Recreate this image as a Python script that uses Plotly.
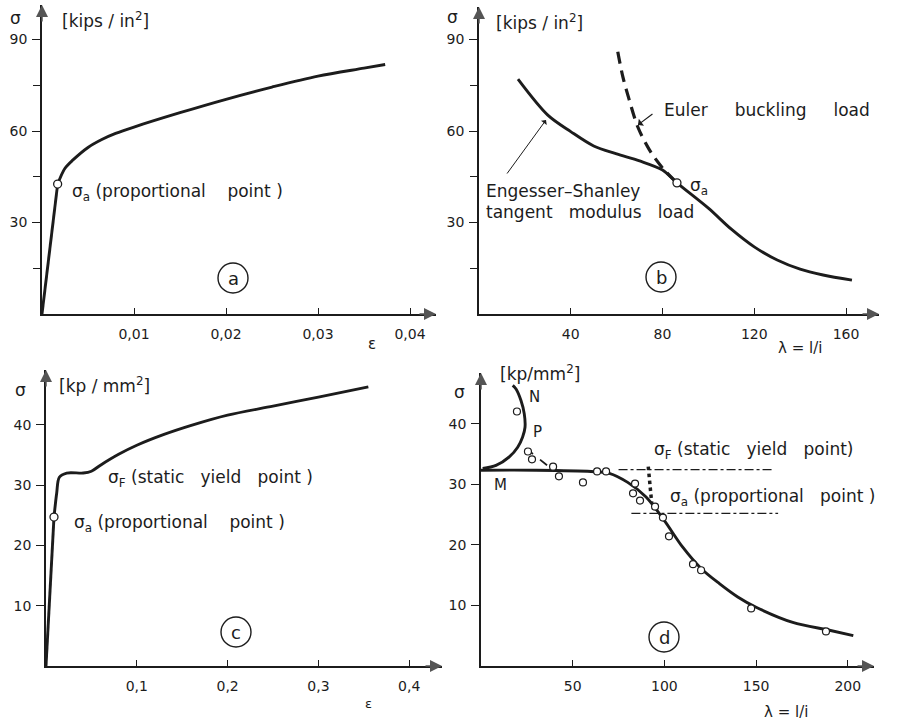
import plotly.graph_objects as go

W, H = 916, 726

# ---------------- data ----------------
# (a) stress-strain, kips/in^2
a_eps = [0, 0.0017, 0.0025, 0.0034, 0.0050, 0.0065, 0.0080, 0.0100, 0.0150, 0.0200, 0.0250, 0.0300, 0.0350, 0.0373]
a_sig = [0, 42.6, 47.8, 50.6, 54.6, 57.2, 59.2, 61.3, 66.0, 70.4, 74.4, 78.0, 80.6, 81.8]
a_prop = (0.0017, 42.6)
a_xticks = [0.01, 0.02, 0.03, 0.04]
a_xtext = ["0,01", "0,02", "0,03", "0,04"]

# (b) column buckling, kips/in^2
b_lam = [17.0, 30, 40, 50, 60, 70, 80, 86.3, 100, 110, 120, 130, 140, 150, 162.6]
b_sig = [77.0, 65.2, 59.8, 55.1, 52.5, 50.2, 47.2, 43.0, 34.7, 27.8, 22.0, 17.7, 14.7, 12.8, 11.1]
euler_lam = [60.5, 62.7, 65.5, 69.2, 74.3, 80.1, 86.3]
euler_sig = [86.0, 77.8, 70.2, 61.4, 53.8, 47.8, 43.0]
b_prop = (86.3, 43.0)
b_xticks = [40, 80, 120, 160]

ab_yticks = [30, 60, 90]
ab_yminor = [15, 45, 75]

# (c) stress-strain, kp/mm^2
c_eps = [0, 0.0088, 0.0118, 0.0147, 0.0228, 0.041, 0.050, 0.060, 0.080, 0.100, 0.130, 0.160, 0.200, 0.250, 0.300, 0.355]
c_sig = [0, 24.7, 28.7, 31.3, 32.0, 32.0, 32.3, 33.3, 35.1, 36.6, 38.4, 39.9, 41.6, 43.1, 44.6, 46.3]
c_prop = (0.0088, 24.7)
c_xticks = [0.1, 0.2, 0.3, 0.4]
c_xtext = ["0,1", "0,2", "0,3", "0,4"]

# (d) column tests, kp/mm^2
d_lam = [0, 30, 60, 70, 80, 90, 100, 110, 120, 130, 140, 150, 170, 190, 203]
d_sig = [32.3, 32.3, 32.1, 31.8, 30.3, 27.9, 24.0, 19.6, 16.1, 13.6, 11.4, 9.7, 7.2, 5.9, 5.0]
mn_lam = [0.9, 8.2, 15.4, 20.0, 22.7, 24.0, 23.6, 21.8, 19.1, 17.3]
mn_sig = [32.6, 33.1, 34.5, 36.1, 37.8, 39.4, 41.6, 43.8, 45.7, 46.3]
p_lam = [24.5, 38.2]
p_sig = [35.9, 32.6]
dot_lam = [91.2, 93.1]
dot_sig = [32.9, 26.8]
yield_lam = [75, 159]
yield_sig = [32.4, 32.4]
propl_lam = [82, 162]
propl_sig = [25.2, 25.2]
test_lam = [19.6, 25.6, 27.8, 39.3, 42.5, 55.6, 63.3, 68.2, 84.0, 82.9, 86.7, 94.9, 99.2, 102.5, 115.6, 120.0, 147.3, 188.1]
test_sig = [42.0, 35.4, 34.1, 32.9, 31.3, 30.3, 32.1, 32.1, 30.1, 28.5, 27.3, 26.3, 24.5, 21.4, 16.8, 15.8, 9.5, 5.7]
d_xticks = [50, 100, 150, 200]
cd_yticks = [10, 20, 30, 40]

# ---------------- styling ----------------
INK = "#1c1c1c"
FONT = "DejaVu Sans"
CURVE = dict(color=INK, width=2.9)
OPEN = dict(symbol="circle", size=8, color="white", line=dict(color=INK, width=1.3))


def px(x):
    return x / W


def py(y):
    return 1 - y / H


fig = go.Figure()


def add(x, y, ax, **kw):
    fig.add_trace(go.Scatter(x=x, y=y, xaxis="x" + ax, yaxis="y" + ax,
                             showlegend=False, hoverinfo="skip", **kw))


SPL = dict(shape="spline", smoothing=0.9)

# panel a
add(a_eps[:2], a_sig[:2], "", mode="lines", line=CURVE)
add(a_eps[1:], a_sig[1:], "", mode="lines", line=dict(**CURVE, **SPL))
add([a_prop[0]], [a_prop[1]], "", mode="markers", marker=OPEN)
# panel b
add(euler_lam, euler_sig, "2", mode="lines", line=dict(color=INK, width=3.2, dash="12px,7px", **SPL))
add(b_lam, b_sig, "2", mode="lines", line=dict(**CURVE, **SPL))
add([b_prop[0]], [b_prop[1]], "2", mode="markers", marker=OPEN)
# panel c
add(c_eps[:2], c_sig[:2], "3", mode="lines", line=CURVE)
add(c_eps[1:], c_sig[1:], "3", mode="lines", line=dict(**CURVE, **SPL))
add([c_prop[0]], [c_prop[1]], "3", mode="markers", marker=OPEN)
# panel d
add(yield_lam, yield_sig, "4", mode="lines", line=dict(color=INK, width=1.2, dash="dashdot"))
add(propl_lam, propl_sig, "4", mode="lines", line=dict(color=INK, width=1.2, dash="dashdot"))
add(d_lam, d_sig, "4", mode="lines", line=dict(**CURVE, **SPL))
add(mn_lam, mn_sig, "4", mode="lines", line=dict(**CURVE, **SPL))
add(p_lam, p_sig, "4", mode="lines", line=dict(color=INK, width=1.8, dash="dash"))
add(dot_lam, dot_sig, "4", mode="lines", line=dict(color=INK, width=3.5, dash="dot"))
add(test_lam, test_sig, "4", mode="markers", marker=dict(symbol="circle", size=7, color="white", line=dict(color=INK, width=1.2)))

TF = dict(family=FONT, size=14, color=INK)


def xaxis(dom, rng, vals, text, anchor):
    return dict(domain=dom, range=rng, anchor=anchor, showline=True, linecolor=INK, linewidth=1.6,
                ticks="inside", ticklen=6, tickwidth=1.3, tickcolor=INK, tickvals=vals, ticktext=text,
                showgrid=False, zeroline=False, tickfont=TF, ticklabelstandoff=6, fixedrange=True)


def yaxis(dom, rng, vals, anchor, minor=None):
    d = dict(domain=dom, range=rng, anchor=anchor, showline=True, linecolor=INK, linewidth=1.6,
             ticks="outside", ticklen=8, tickwidth=1.3, tickcolor=INK, tickvals=vals,
             showgrid=False, zeroline=False, tickfont=TF, ticklabelstandoff=2, fixedrange=True)
    if minor:
        d["minor"] = dict(tickvals=minor, ticks="outside", ticklen=7, tickwidth=1.2, tickcolor=INK, showgrid=False)
    return d


# pixel frames of each panel: (x0, x1, ytop, ybottom)
fa = (42, 436, 5, 314)
fb = (479, 879, 7, 314)
fc = (46, 442, 370, 666)
fd = (481, 874, 373, 666)

ra = [0, (fa[1] - fa[0]) / 9200]
rya = [0, (fa[3] - fa[2]) / 91.5 * 30]
rb = [0, (fb[1] - fb[0]) / 91.75 * 40]
ryb = [0, (fb[3] - fb[2]) / 91.5 * 30]
rc = [0, (fc[1] - fc[0]) / 908]
ryc = [0, (fc[3] - fc[2]) / 60.3 * 10]
rd = [0, (fd[1] - fd[0]) / 91.7 * 50]
ryd = [0, (fd[3] - fd[2]) / 60.6 * 10]


def dom(f):
    return [px(f[0]), px(f[1])], [py(f[3]), py(f[2])]


da = dom(fa); db = dom(fb); dc = dom(fc); dd = dom(fd)

fig.update_layout(
    width=W, height=H, margin=dict(l=0, r=0, t=0, b=0),
    paper_bgcolor="white", plot_bgcolor="rgba(0,0,0,0)",
    xaxis=xaxis(da[0], ra, a_xticks, a_xtext, "y"),
    yaxis=yaxis(da[1], rya, ab_yticks, "x", ab_yminor),
    xaxis2=xaxis(db[0], rb, b_xticks, [str(v) for v in b_xticks], "y2"),
    yaxis2=yaxis(db[1], ryb, ab_yticks, "x2", ab_yminor),
    xaxis3=xaxis(dc[0], rc, c_xticks, c_xtext, "y3"),
    yaxis3=yaxis(dc[1], ryc, cd_yticks, "x3"),
    xaxis4=xaxis(dd[0], rd, d_xticks, [str(v) for v in d_xticks], "y4"),
    yaxis4=yaxis(dd[1], ryd, cd_yticks, "x4"),
)

ann = []
# axis arrowheads
for suf, rx, ry in [("", ra, rya), ("2", rb, ryb), ("3", rc, ryc), ("4", rd, ryd)]:
    ann.append(dict(xref="x" + suf, yref="y" + suf, x=rx[1], y=0, ax=-18, ay=0, text="", showarrow=True,
                    arrowhead=2, arrowsize=1.6, arrowwidth=1.5, arrowcolor="#555"))
    ann.append(dict(xref="x" + suf, yref="y" + suf, x=0, y=ry[1], ax=0, ay=18, text="", showarrow=True,
                    arrowhead=2, arrowsize=1.6, arrowwidth=1.5, arrowcolor="#555"))


def txt(x, y, s, size=17, anchor="left"):
    ann.append(dict(xref="paper", yref="paper", x=px(x), y=py(y), text=s, showarrow=False,
                    xanchor=anchor, yanchor="middle", font=dict(family=FONT, size=size, color=INK)))


S = "\u00a0"
# panel a
txt(15, 18, "σ", 17, "center")
txt(60, 20, "[kips" + S + "/" + S + "in<sup>2</sup>]", 17)
txt(70, 193, "σ<sub>a</sub>" + S + "(proportional" + S * 4 + "point" + S + ")", 17)
txt(372, 344, "ε", 15, "center")
# panel b
txt(452, 17, "σ", 17, "center")
txt(494, 22, "[kips" + S + "/" + S + "in<sup>2</sup>]", 17)
txt(662, 110, "Euler" + S * 5 + "buckling" + S * 5 + "load", 17)
txt(484, 191, "Engesser–Shanley", 17)
txt(484, 212, "tangent" + S * 3 + "modulus" + S * 3 + "load", 17)
txt(688, 186, "σ<sub>a</sub>", 17)
txt(776, 348, "λ" + S + "=" + S + "l/i", 15)
# panel c
txt(20, 390, "σ", 17, "center")
txt(57, 385, "[kp" + S + "/" + S + "mm<sup>2</sup>]", 17)
txt(106, 478, "σ<sub>F</sub>" + S + "(static" + S * 3 + "yield" + S * 3 + "point" + S + ")", 17)
txt(72, 523, "σ<sub>a</sub>" + S + "(proportional" + S * 4 + "point" + S + ")", 17)
txt(368, 703, "ε", 13, "center")
# panel d
txt(459, 392, "σ", 17, "center")
txt(498, 373, "[kp/mm<sup>2</sup>]", 17)
txt(534, 397, "N", 15, "center")
txt(537, 432, "P", 15, "center")
txt(500, 485, "M", 15, "center")
txt(652, 450, "σ<sub>F</sub>" + S + "(static" + S * 3 + "yield" + S * 3 + "point)", 17)
txt(668, 497, "σ<sub>a</sub>" + S + "(proportional" + S * 3 + "point" + S + ")", 17)
txt(762, 712, "λ" + S + "=" + S + "l/i", 15)

# pointer arrows in b
ann.append(dict(xref="x2", yref="y2", x=69.3, y=62.0, ax=16, ay=-12, text="", showarrow=True,
                arrowhead=1, arrowsize=1.2, arrowwidth=1.2, arrowcolor=INK))
ann.append(dict(xref="x2", yref="y2", x=29.2, y=63.6, ax=-40, ay=55, text="", showarrow=True,
                arrowhead=1, arrowsize=1.2, arrowwidth=1.0, arrowcolor=INK))

shapes = []
for cx, cy, letter in [(233, 278, "a"), (661, 277, "b"), (236, 632, "c"), (664, 637, "d")]:
    shapes.append(dict(type="circle", xref="paper", yref="paper", x0=px(cx - 15), x1=px(cx + 15),
                       y0=py(cy + 15), y1=py(cy - 15), line=dict(color=INK, width=1.4)))
    txt(cx, cy, letter, 18, "center")

fig.update_layout(annotations=ann, shapes=shapes)
fig.write_html("out.html")
